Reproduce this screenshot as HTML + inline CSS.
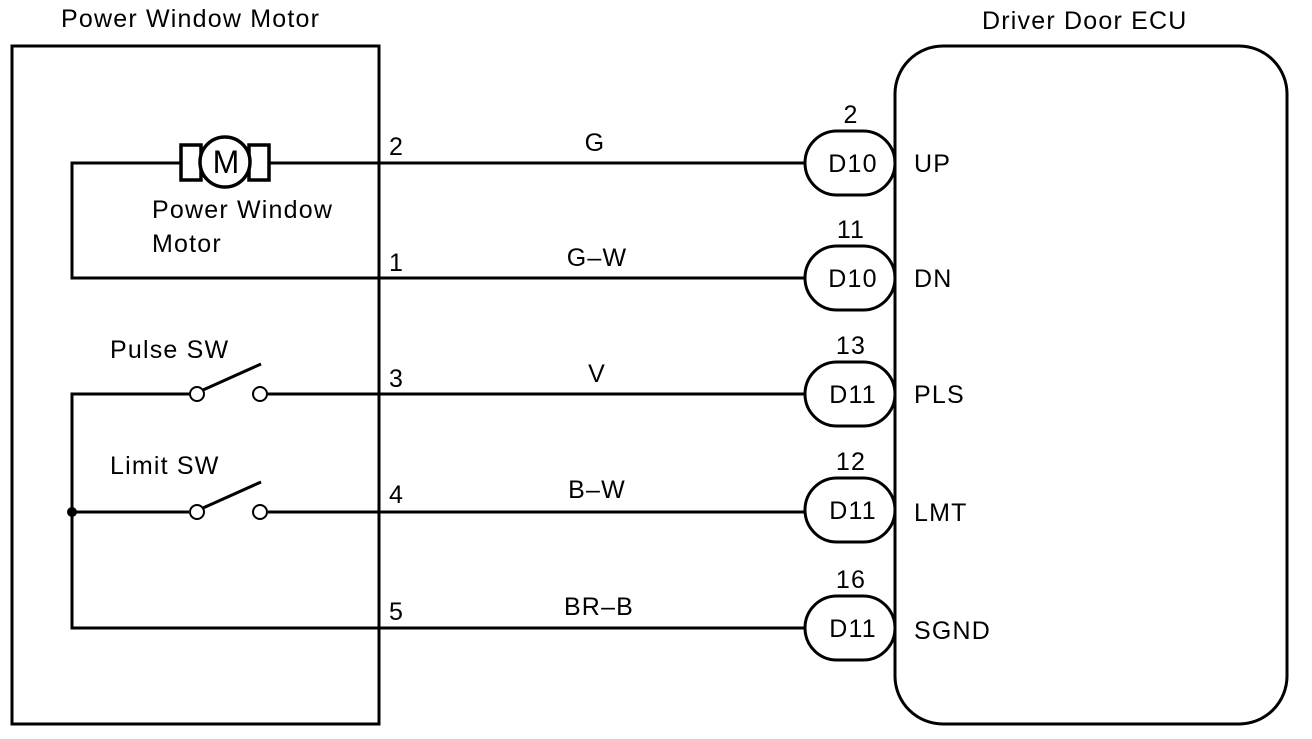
<!DOCTYPE html>
<html><head><style>body{margin:0;background:#fff}</style></head><body>
<svg width="1312" height="734" viewBox="0 0 1312 734" xmlns="http://www.w3.org/2000/svg" font-family="Liberation Sans, sans-serif" font-size="25" letter-spacing="1.2" fill="#000">
<g stroke="#000" stroke-width="3" fill="none">
<rect x="12" y="46" width="367" height="678"/>
<rect x="895" y="46" width="392" height="678" rx="48"/>
<polyline points="379,163 268,163"/><polyline points="182,163 72,163 72,278 379,278"/>
<rect x="181" y="145" width="20" height="35" stroke-width="3.5"/>
<rect x="249" y="145" width="20" height="35" stroke-width="3.5"/>
<circle cx="225" cy="162" r="25" fill="#fff" stroke-width="3.5"/>
<polyline points="189,394 72,394 72,628 805,628"/>
<line x1="268" y1="394" x2="805" y2="394"/>
<line x1="72" y1="512" x2="189" y2="512"/>
<line x1="268" y1="512" x2="805" y2="512"/>
<line x1="379" y1="163" x2="805" y2="163"/>
<line x1="379" y1="278" x2="805" y2="278"/>
<circle cx="197" cy="394" r="7" stroke-width="2"/><circle cx="260" cy="394" r="7" stroke-width="2"/>
<line x1="203" y1="390" x2="261" y2="364"/>
<circle cx="197" cy="512" r="7" stroke-width="2"/><circle cx="260" cy="512" r="7" stroke-width="2"/>
<line x1="203" y1="508" x2="261" y2="482"/>
<rect x="805" y="131" width="90" height="64" rx="32" fill="#fff"/>
<rect x="805" y="246" width="90" height="64" rx="32" fill="#fff"/>
<rect x="805" y="362" width="90" height="64" rx="32" fill="#fff"/>
<rect x="805" y="478" width="90" height="64" rx="32" fill="#fff"/>
<rect x="805" y="596" width="90" height="64" rx="32" fill="#fff"/>
</g>
<circle cx="72" cy="512" r="5"/>
<text x="226" y="173" text-anchor="middle" font-size="32" letter-spacing="0">M</text>
<text x="61" y="27">Power Window Motor</text>
<text x="982" y="29">Driver Door ECU</text>
<text x="152" y="218">Power Window</text>
<text x="152" y="252">Motor</text>
<text x="110" y="358">Pulse SW</text>
<text x="110" y="474">Limit SW</text>
<g><text x="389" y="155">2</text><text x="389" y="271">1</text><text x="389" y="387">3</text><text x="389" y="503">4</text><text x="389" y="620">5</text></g>
<g text-anchor="middle"><text x="595" y="151">G</text><text x="597" y="266">G–W</text><text x="597" y="382">V</text><text x="597" y="498">B–W</text><text x="599" y="615">BR–B</text>
<text x="851" y="123">2</text><text x="851" y="238">11</text><text x="851" y="354">13</text><text x="851" y="470">12</text><text x="851" y="588">16</text>
<text x="853" y="172">D10</text><text x="853" y="287">D10</text><text x="853" y="403">D11</text><text x="853" y="519">D11</text><text x="853" y="637">D11</text></g>
<text x="914" y="172">UP</text><text x="914" y="287">DN</text><text x="914" y="403">PLS</text><text x="914" y="521">LMT</text><text x="914" y="639">SGND</text>
</svg>
</body></html>
